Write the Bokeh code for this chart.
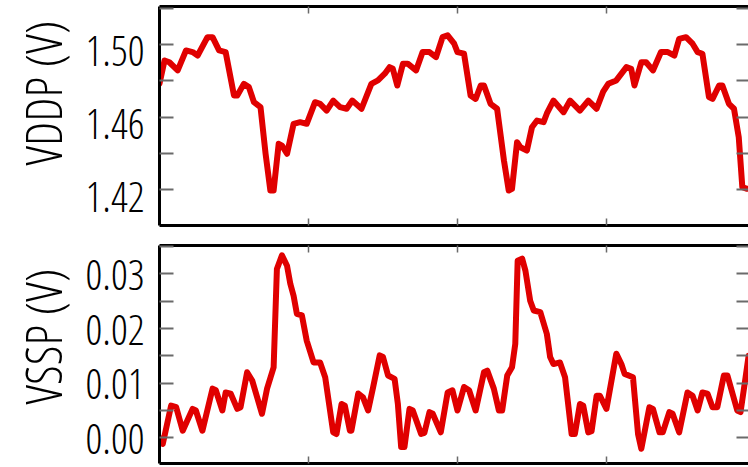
from bokeh.plotting import figure
from bokeh.layouts import column
from bokeh.models import (Range1d, LinearAxis, FixedTicker, CustomJSTickFormatter,
                          NumeralTickFormatter, Title)
from bokeh.embed import file_html
from bokeh.resources import INLINE

# ---------------- data (time in arbitrary units, voltages in V) ----------------
t_vddp = [0, 1.7, 3.3, 6.1, 8.9, 11.1, 12.8, 16.1, 17.8, 20.0, 22.2, 25.0, 26.1, 28.3,
          30.0, 31.7, 33.9, 35.6, 37.2, 38.3, 40.0, 41.1, 42.8, 45.0, 47.2, 49.4, 52.2,
          53.9, 56.1, 58.3, 60.6, 62.8, 64.7, 67.8, 71.1, 73.3, 75.6, 77.2, 78.3, 79.8,
          81.7, 83.3, 86.1, 88.3, 90.6, 92.8, 95.0, 96.7, 98.9, 100.0, 102.2, 104.4,
          106.1, 107.8, 108.9, 111.1, 113.3, 115.6, 117.2, 118.3, 120.0, 121.1, 123.3,
          125.0, 126.7, 128.9, 130.0, 132.2, 135.6, 137.8, 141.1, 143.9, 146.7, 148.9,
          150.6, 153.3, 156.7, 158.3, 159.4, 161.7, 163.3, 165.6, 168.3, 170.6, 172.8,
          174.4, 176.7, 178.9, 180.6, 182.2, 184.4, 185.6, 187.8, 188.9, 191.1, 192.8,
          194.4, 195.6, 197.2, 198.0]
vddp = [1.4785, 1.4912, 1.4902, 1.4857, 1.4967, 1.4958, 1.4939, 1.5040, 1.5040, 1.4967,
        1.4958, 1.4719, 1.4719, 1.4783, 1.4765, 1.4682, 1.4655, 1.4398, 1.4196, 1.4196,
        1.4453, 1.4443, 1.4398, 1.4563, 1.4572, 1.4563, 1.4682, 1.4673, 1.4636, 1.4691,
        1.4655, 1.4646, 1.4691, 1.4646, 1.4783, 1.4802, 1.4839, 1.4875, 1.4866, 1.4774,
        1.4894, 1.4894, 1.4857, 1.4958, 1.4958, 1.4930, 1.5040, 1.5050, 1.5004, 1.4958,
        1.4949, 1.4719, 1.4700, 1.4774, 1.4774, 1.4673, 1.4646, 1.4361, 1.4196, 1.4205,
        1.4462, 1.4434, 1.4416, 1.4544, 1.4581, 1.4572, 1.4620, 1.4691, 1.4627, 1.4691,
        1.4636, 1.4691, 1.4646, 1.4740, 1.4783, 1.4802, 1.4875, 1.4866, 1.4774, 1.4902,
        1.4902, 1.4857, 1.4958, 1.4958, 1.4939, 1.5031, 1.5040, 1.5004, 1.4958, 1.4949,
        1.4710, 1.4700, 1.4774, 1.4774, 1.4673, 1.4646, 1.4489, 1.4214, 1.4205, 1.4205]

t_vssp = [0, 1.1, 3.9, 5.6, 7.8, 11.1, 12.2, 14.4, 17.8, 18.9, 21.1, 22.2, 23.9, 26.1,
          27.2, 29.4, 31.1, 34.4, 36.1, 38.3, 39.4, 41.1, 42.8, 43.9, 45.0, 46.1, 47.8,
          49.4, 51.7, 53.9, 55.6, 58.3, 59.4, 61.1, 62.2, 63.9, 64.4, 66.7, 68.3, 70.0,
          71.7, 73.9, 75.0, 76.7, 78.9, 80.0, 81.1, 82.2, 83.9, 85.0, 87.8, 88.9, 90.6,
          91.7, 94.4, 96.7, 98.3, 100.0, 102.2, 103.9, 106.1, 108.9, 110.0, 112.2, 113.9,
          115.0, 116.7, 118.3, 119.4, 120.2, 121.7, 122.8, 124.4, 125.6, 127.8, 130.0,
          131.1, 132.2, 134.4, 136.1, 138.3, 139.4, 141.1, 142.2, 143.9, 145.0, 146.7,
          147.8, 150.0, 153.3, 155.0, 156.1, 158.9, 160.6, 161.7, 164.4, 165.6, 167.8,
          168.9, 171.1, 172.2, 174.4, 177.2, 178.9, 180.6, 182.2, 183.9, 185.6, 187.2,
          189.4, 190.6, 193.9, 195.0, 196.7, 197.7]
vssp = [0.0000, -0.0011, 0.0059, 0.0056, 0.0013, 0.0053, 0.0050, 0.0013, 0.0090, 0.0087,
        0.0050, 0.0083, 0.0081, 0.0053, 0.0056, 0.0120, 0.0105, 0.0044, 0.0090, 0.0129,
        0.0309, 0.0334, 0.0315, 0.0282, 0.0260, 0.0227, 0.0224, 0.0178, 0.0138, 0.0138,
        0.0111, 0.0010, 0.0007, 0.0062, 0.0059, 0.0013, 0.0013, 0.0081, 0.0074, 0.0050,
        0.0093, 0.0151, 0.0148, 0.0114, 0.0108, 0.0062, -0.0017, -0.0017, 0.0053, 0.0050,
        0.0007, 0.0009, 0.0047, 0.0044, 0.0010, 0.0083, 0.0087, 0.0050, 0.0093, 0.0087,
        0.0050, 0.0120, 0.0123, 0.0090, 0.0050, 0.0050, 0.0114, 0.0129, 0.0172, 0.0324,
        0.0328, 0.0306, 0.0251, 0.0233, 0.0230, 0.0190, 0.0148, 0.0135, 0.0138, 0.0111,
        0.0007, 0.0007, 0.0062, 0.0059, 0.0010, 0.0012, 0.0077, 0.0077, 0.0053, 0.0154,
        0.0135, 0.0117, 0.0111, 0.0007, -0.0020, 0.0056, 0.0053, 0.0010, 0.0010, 0.0047,
        0.0044, 0.0010, 0.0083, 0.0077, 0.0050, 0.0083, 0.0081, 0.0056, 0.0056, 0.0114,
        0.0114, 0.0050, 0.0047, 0.0111, 0.0150]

x_ticks = [50, 100, 150]
x_limits = (0, 197.67)

vddp_ticks = [1.40, 1.42, 1.44, 1.46, 1.48, 1.50, 1.52]
vddp_labels = [1.42, 1.46, 1.50]
vddp_limits = (1.4003, 1.5209)

vssp_ticks = [-0.005, 0.0, 0.005, 0.010, 0.015, 0.020, 0.025, 0.030, 0.035]
vssp_labels = [0.00, 0.01, 0.02, 0.03]
vssp_limits = (-0.0047, 0.0352)

FONT = ("Open Sans Condensed Light, Liberation Sans Narrow, Noto Sans ExtraCondensed, "
        "Noto Sans Condensed, Open Sans Condensed, Roboto Condensed, DejaVu Sans Condensed")
RED = "#e00000"
TICK = "#6a6a6a"


def tick_only(ax, tick_in, line_color, tick_width):
    ax.formatter = CustomJSTickFormatter(code="return ''")
    ax.major_label_text_font_size = "0px"
    ax.major_label_standoff = 0
    ax.minor_tick_line_color = None
    ax.major_tick_out = 0
    ax.major_tick_in = tick_in
    ax.major_tick_line_color = TICK
    ax.major_tick_line_width = tick_width
    ax.axis_line_color = line_color
    ax.axis_line_width = 3
    return ax


def panel(t, v, limits, ticks, labels, label_shift, label_text, height,
          mb_top, mb_bottom, title_offset):
    p = figure(width=748, height=height, output_backend="svg", toolbar_location=None,
               x_range=Range1d(*x_limits), y_range=Range1d(*limits),
               x_axis_location=None, y_axis_location=None,
               min_border_left=155, min_border_right=0,
               min_border_top=mb_top, min_border_bottom=mb_bottom)
    p.outline_line_color = None
    p.grid.visible = False
    p.background_fill_color = "white"
    p.border_fill_color = "white"

    p.extra_y_ranges = {"lab": Range1d(limits[0] + label_shift, limits[1] + label_shift)}

    p.add_layout(tick_only(LinearAxis(ticker=FixedTicker(ticks=ticks)), 14, "black", 2), "left")
    lab = LinearAxis(y_range_name="lab", ticker=FixedTicker(ticks=labels),
                     formatter=NumeralTickFormatter(format="0.00"))
    lab.major_tick_in = 0
    lab.major_tick_out = 0
    lab.minor_tick_line_color = None
    lab.axis_line_color = None
    lab.major_label_standoff = 15
    lab.major_label_text_font = FONT
    lab.major_label_text_font_size = "42px"
    lab.major_label_text_color = "black"
    p.add_layout(lab, "left")

    p.add_layout(Title(text=label_text, align="right", offset=title_offset, standoff=12,
                       text_font=FONT, text_font_size="50px", text_font_style="normal",
                       text_color="black"), "left")

    p.add_layout(tick_only(LinearAxis(ticker=FixedTicker(ticks=ticks)), 12, None, 2), "right")
    p.add_layout(tick_only(LinearAxis(ticker=FixedTicker(ticks=x_ticks)), 7, "black", 1.5), "above")
    p.add_layout(tick_only(LinearAxis(ticker=FixedTicker(ticks=x_ticks)), 7, "black", 1.5), "below")

    p.line(t, v, line_color=RED, line_width=6, line_join="round", line_cap="round")
    return p


top = panel(t_vddp, vddp, vddp_limits, vddp_ticks, vddp_labels, 0.0038, "VDDP (V)",
            235, 6, 10, 14)
bottom = panel(t_vssp, vssp, vssp_limits, vssp_ticks, vssp_labels, 0.0002, "VSSP (V)",
               232, 10, 4, 23)

layout = column(top, bottom, spacing=0)
open("out.html", "w").write(file_html(layout, INLINE))
